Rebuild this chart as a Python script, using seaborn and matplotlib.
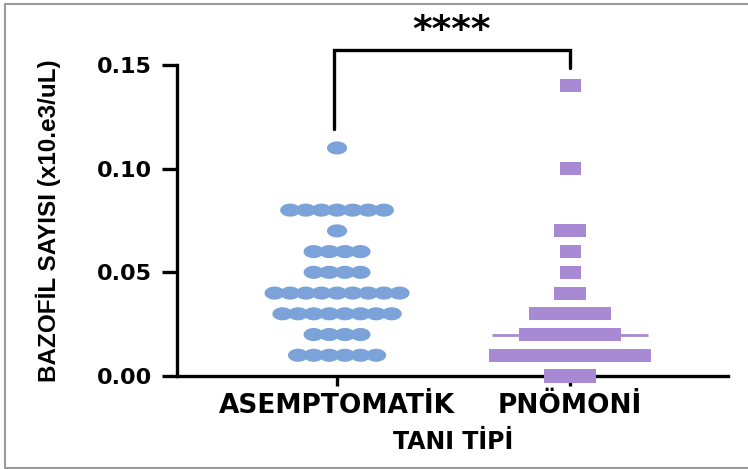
import numpy as np
import pandas as pd
import matplotlib
matplotlib.use("Agg")
import matplotlib.pyplot as plt
from matplotlib.path import Path
from matplotlib.lines import Line2D
import seaborn as sns

# ---- data ----
categories = ["ASEMPTOMATİK", "PNÖMONİ"]
asym_values = [0.11, 0.08, 0.07, 0.06, 0.05, 0.04, 0.03, 0.02, 0.01]
asym_counts = [1, 7, 1, 4, 4, 9, 8, 4, 6]
pnom_values = [0.14, 0.10, 0.07, 0.06, 0.05, 0.04, 0.03, 0.02, 0.01, 0.00]
pnom_counts = [1, 1, 2, 1, 1, 2, 7, 9, 15, 4]
y_ticks = [0.00, 0.05, 0.10, 0.15]
y_label = "BAZOFİL SAYISI (x10.e3/uL)"
x_label = "TANI TİPİ"
sig_label = "****"

blue = "#7BA3DA"
purple = "#A78AD3"

sns.set_theme(style="white")
plt.rcParams['font.family'] = ['DejaVu Sans']


def build_rows(values, counts, group_idx, spacing):
    xs, ys = [], []
    for v, n in zip(values, counts):
        for k in range(n):
            xs.append(group_idx + (k - (n - 1) / 2) * spacing)
            ys.append(v)
    return xs, ys


ax_x, ax_y = build_rows(asym_values, asym_counts, 0, 0.067)
pn_x, pn_y = build_rows(pnom_values, pnom_counts, 1, 0.043)
df_a = pd.DataFrame({"x": ax_x, "y": ax_y, "grp": categories[0]})
df_p = pd.DataFrame({"x": pn_x, "y": pn_y, "grp": categories[1]})

# custom markers: flattened ellipse and flattened rectangle
t = np.linspace(0, 2 * np.pi, 60)
ellipse = Path(np.column_stack([np.cos(t), 0.65 * np.sin(t)]), closed=True)
rect = Path([(-1, -0.62), (1, -0.62), (1, 0.62), (-1, 0.62), (-1, -0.62)], closed=True)

fig = plt.figure(figsize=(7.48, 4.69), dpi=100)
ax = fig.add_axes([177 / 748, 1 - 376 / 469, (728 - 177) / 748, (376 - 65) / 469])

# median line of the pneumonia group (the asymptomatic one is hidden by its dots)
med = np.median(np.repeat(pnom_values, pnom_counts))
ax.plot([1 - 0.335, 1 + 0.335], [med, med], color=purple, lw=2.0, zorder=1,
        solid_capstyle="butt", clip_on=False)

sns.scatterplot(data=df_a, x="x", y="y", ax=ax, marker=ellipse, s=210,
                color=blue, edgecolor="none", linewidth=0, legend=False,
                zorder=3, clip_on=False)
sns.scatterplot(data=df_p, x="x", y="y", ax=ax, marker=rect, s=230,
                color=purple, edgecolor="none", linewidth=0, legend=False,
                zorder=3, clip_on=False)

ax.set_xlim(-0.687, 1.678)
ax.set_ylim(0, 0.15)
ax.set_xticks([0, 1])
ax.set_xticklabels(categories, fontsize=19, fontweight="bold")
ax.set_yticks(y_ticks)
ax.set_yticklabels([f"{v:.2f}" for v in y_ticks], fontsize=16, fontweight="bold")
ax.set_xlabel(x_label, fontsize=17, fontweight="bold", color="black")
ax.xaxis.set_label_coords((0.5 + 0.687) / (1.678 + 0.687), -0.175)
ax.set_ylabel(y_label, fontsize=17.5, fontweight="bold", color="black",
              family=["Liberation Sans Narrow", "Liberation Sans", "DejaVu Sans"])
ax.yaxis.set_label_coords(-0.21, 0.5)

for side in ["top", "right"]:
    ax.spines[side].set_visible(False)
for side in ["left", "bottom"]:
    ax.spines[side].set_color("black")
    ax.spines[side].set_linewidth(2.4)
ax.tick_params(axis="both", which="both", direction="out", width=2.4,
               color="black", labelcolor="black", bottom=True, left=True)
ax.tick_params(axis="y", length=11, pad=7)
ax.tick_params(axis="x", length=7, pad=5)
ax.set_facecolor("white")

# significance bracket
ax.plot([-0.013, -0.013, 1, 1], [0.119, 0.157, 0.157, 0.1486], color="black", lw=2.4,
        clip_on=False, solid_joinstyle="miter")
ax.text(0.49, 0.1578, sig_label, ha="center", va="bottom", fontsize=27,
        fontweight="bold", color="black", clip_on=False)

# figure border (left, top, bottom; open on the right)
bx0, by0, by1 = 5 / 748, 1 - 468 / 469, 1 - 4 / 469
for xs, ys in [([bx0, bx0], [by0, by1]), ([bx0, 1.0], [by1, by1]), ([bx0, 1.0], [by0, by0])]:
    fig.add_artist(Line2D(xs, ys, transform=fig.transFigure, color="#9a9a9a", lw=1.5))

fig.savefig("out.png", dpi=100, facecolor="white")
